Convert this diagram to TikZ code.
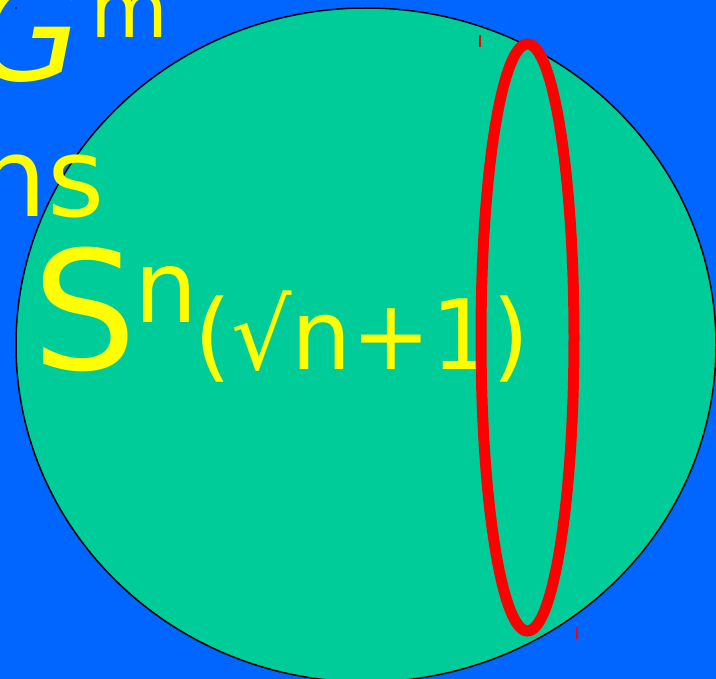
\documentclass[tikz,border=0pt]{standalone}
\usepackage{fontspec}
\setmainfont{DejaVu Sans}
\usepackage{tikz}
\definecolor{bgBlue}{RGB}{0,102,255}
\definecolor{ballG}{RGB}{0,204,153}
\definecolor{txtY}{RGB}{255,255,0}
\definecolor{ringR}{RGB}{255,0,0}
\newcommand{\fsz}[1]{\fontsize{#1}{#1}\selectfont}
\tikzset{
  ball/.style={fill=ballG,draw=black,line width=1.5pt},
  ring/.style={draw=ringR,line width=11pt},
  tick/.style={draw=ringR,line width=1.2pt},
  lbl/.style={text=txtY,inner sep=0pt,outer sep=0pt,anchor=base west}
}

\begin{document}
\begin{tikzpicture}[x=1pt,y=-1pt]
  \useasboundingbox (0,0) rectangle (716,679);
  \clip (0,0) rectangle (716,679);
  \fill[bgBlue] (0,0) rectangle (716,679);
  % sphere
  \draw[ball] (366,345) ellipse [x radius=350,y radius=337];
  % labels
  \node[lbl,font=\fsz{140}\itshape] (G) at (-27,81) {G};
  \node[lbl,font=\fsz{80}] (Gsup) at (90,38) {m};
  \node[lbl,font=\fsz{110}] (ns) at (-22,217) {ns};
  \node[lbl,font=\fsz{165}] (S) at (32,370) {S};
  \node[lbl,font=\fsz{100}] (Ssup) at (134,323) {n};
  \node[lbl,font=\fsz{97},xscale=0.98,transform shape] (rad) at (194,370) {(√n+1)};
  % equator
  \draw[ring] (527.5,337.5) ellipse [x radius=46.5,y radius=293.5];
  \draw[tick] (480,35) -- (480,47);
  \draw[tick] (577,627) -- (577,639);
  \fill[black] (16,8) circle [radius=0.8];
\end{tikzpicture}
\end{document}
